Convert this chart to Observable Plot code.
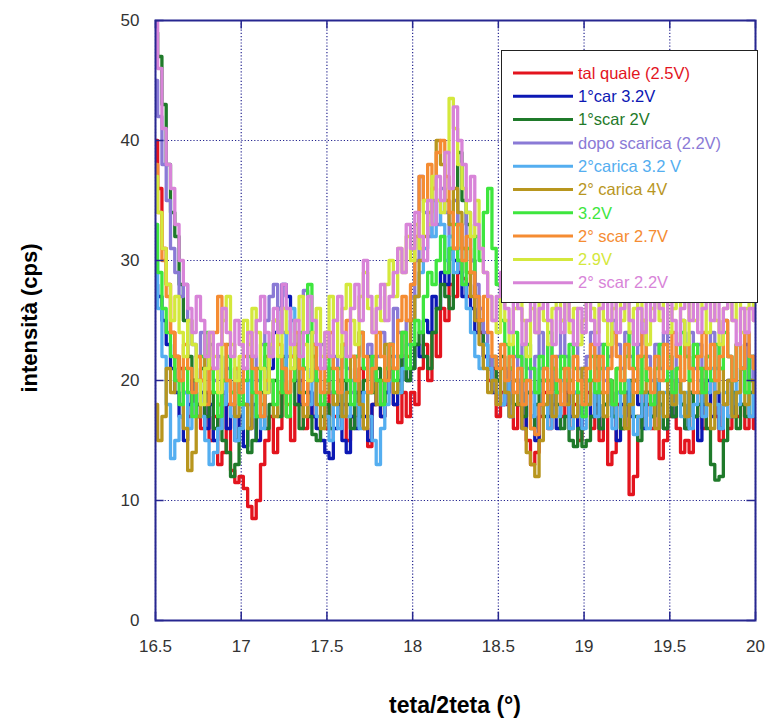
<!DOCTYPE html>
<html>
<head>
<meta charset="utf-8">
<script src="https://cdn.jsdelivr.net/npm/d3@7"></script>
<script src="https://cdn.jsdelivr.net/npm/@observablehq/plot@0.6"></script>
<style>
  html, body { margin: 0; padding: 0; background: #fff; }
  #wrap { position: relative; width: 770px; height: 725px; font-family: "Liberation Sans", Arial, sans-serif; }
  #ytitle { position: absolute; left: 30px; top: 318px; transform: translate(-50%, -50%) rotate(-90deg); font-weight: bold; font-size: 22px; color: #000; white-space: nowrap; }
  #xtitle { position: absolute; left: 455px; top: 705px; transform: translate(-50%, -50%); font-weight: bold; font-size: 23px; color: #000; white-space: nowrap; }
  #legend { position: absolute; left: 501px; top: 50px; width: 255px; height: 251px; background: #fff; border: 1.5px solid #222; }
</style>
</head>
<body>
<div id="wrap">
  <div id="chart"></div>
  <div id="ytitle">intensità (cps)</div>
  <div id="xtitle">teta/2teta (°)</div>
  <div id="legend"></div>
</div>
<script>
// sampling grid (2theta), step 0.025 deg
const xStart = 16.5, xStep = 0.025;
const xTicks = [16.5, 17, 17.5, 18, 18.5, 19, 19.5, 20];
const yTicks = [0, 10, 20, 30, 40, 50];

const seriesNames = ["tal quale (2.5V)", "1°car 3.2V", "1°scar 2V", "dopo scarica (2.2V)", "2°carica 3.2 V",
  "2° carica 4V", "3.2V", "2° scar 2.7V", "2.9V", "2° scar 2.2V"];
const seriesColors = ["#e3141e", "#0c18b4", "#1f7a2a", "#8a7ad6", "#54aef0",
  "#b8961e", "#3ee63e", "#f58c32", "#d4e83c", "#d884d8"];

const talQuale = [
 40,36,31,28,24,22,21,19,17,20,18,16,19,15,17,13,14,18,12.5,11.5,
 12,11,9.5,8.5,10,13,15,17,14,16,19,17,15,18,20,16,19,17,21,18,
 16,19,17,20,18,15,17,19,21,16,14.5,18,20,17,19,22,18,16.5,19,17,
 19,18,21,23,20,24,22,26,25,28,27,30,28.5,27,29,25,24,22,20,21,
 17,19,18,21,16,18,20,15,13,14,17,19,16,18,20,17,19,16,18,15,
 17,19,16,18,15,17,13,14,18,16,19,10.5,12,17,19,18,16,20,13.5,15,
 17,19,16,14,15,14,17,19,16,18,20,17,15,18,16,19,17,18,16,17,16];
const car1 = [
 28,27,25,23,21,19,17,15,18,20,17,19,16,18,15,17,19,16,18,15,
 17,14.5,16,18,15,17,19,21,24,26,28,27,22,20,18,21,19,17,16,15,
 14,13.5,16,18,15,14,17,16,19,17,15,18,20,17,19,21,18,20,22,20,
 21,23,22,25,24,27,26,29,28,31,30,29,27,28,26,24,25,22,21,19,
 20,18,19,17,20,18,16,19,17,15,18,20,17,19,16,18,20,17,19,16,
 18,20,17,19,16,18,20,17,15,18,19,17,20,18,16,19,17,20,18,16,
 19,17,20,18,16,19,17,15,18,20,17,19,16,18,20,17,19,21,23,20,22];
const scar1 = [
 49,47,43,38,34,32,28,25,22,20,18,21,17,19,16,18,15,14,12,13,
 16,18,14,15,17,19,16,18,20,17,22,19,21,18,16,19,17,15.5,15,17,
 18,16,19,17,20,18,16,19,17,20,22,19,21,18,20,23,21,19,22,20,
 21,23,24,22,21,24,26,28,27,26,31,39,35,33,30,27,25,23,21,22,
 20,22,19,21,18,20,17,19,16,18,20,17,19,21,18,16,17,15,14.5,16,
 14.5,15,17,19,16,18,20,17,19,16,18,20,17,15,18,19,17,20,18,16,
 19,17,20,18,16,19,17,18,20,16,13,11.7,12,15,17,19,16,18,17,19,17];
const dopoScarica = [
 45,42,38,35,31,29,27,28,25,23,22,24,21,23,20,22,19,21,18,20,
 19,21,18,22,20,23,25,27,28,26,24,22,25,23,21,27.5,24,22,20,23,
 21,19,22,20,23,21,19,22,24,21,23,20,22,24,21,23,26,24,22,25,
 27,30,37,34,32,35,33,36,34,32,35,33,31,34,30,28,26,24,22,20,
 19,18,21,19,22,20,23,21,19,22,24,21,23,20,22,25,22,20,23,21,
 20,22,24,21,23,20,22,25,23,21,24,22,20,23,25,22,20,23,21,24,
 22,20,23,25,22,24,21,23,20,22,24,21,23,25,22,20,23,21,24,22,20];
const carica2 = [
 30,26,22,18,13.5,15,17,19,16,18,20,17,15,13,14,16,18,20,17,15,
 16,18,20,17,19,16,21,23,25,22,20,24,26,22,19,21,18,20,17,19,
 17,15,18,16,19,17,20,18,16,19,17,15,13,16,18,20,22,19,21,23,
 25,27,29,31,33,32,35,33,30,32,29,31,28,26,24,22,21,23,21,20,
 19,18,20,17,19,21,18,20,17,19,21,18,16,19,17,20,18,16,19,17,
 16,18,20,17,19,21,18,16,19,17,20,18,15.5,17,19,16,18,20,17,19,
 21,18,20,17,19,16,18,20,17,19,21,18,16,19,17,20,18,21,19,17,20];
const carica2_4V = [
 18,15,17,21,19,22,20,16,12.5,14,17,20,22,19,21,18,20,23,19,17,
 20,18,16,19,21,18,22,20,17,19,21,18,20,23,19,17,20,22,18,16,
 19,21,18,20,17,19,22,20,18,16,19,21,18,20,23,21,19,22,24,22,
 25,27,30,32,34,36,40,38,35,33,36,34,31,29,27,25,23,21,19,20,
 18,21,19,17,20,18,16,14,13,12,15,18,20,17,19,21,18,20,17,19,
 21,18,20,22,19,17,20,18,21,19,16,18,20,22,19,21,18,16,19,17,
 20,18,21,19,17,20,22,19,21,18,16,19,21,18,20,17,19,21,18,20,19];
const v32 = [
 33,29,26,24,22,20,18,21,19,17,20,22,24,21,19,17,20,22,19,21,
 18,20,22,19,17,21,23,20,18,22,19,17,20,22,24,21,28,23,20,18,
 20,22,19,21,23,20,18,22,24,21,19,22,20,18,21,23,20,22,24,21,
 23,25,24,27,29,28,30,32,29,31,33,30,28,31,29,32,30,34,36,31,
 28,25,23,21,24,22,20,23,21,19,22,20,24,21,19,22,20,23,21,19,
 17,20,22,19,21,23,20,18,21,19,22,24,21,19,22,20,18,21,23,20,
 22,19,21,24,22,20,23,21,19,22,20,23,21,24,22,20,23,21,19,22,21];
const scar2_27 = [
 38,34,30,27,24,22,20,23,21,19,22,20,18,21,24,27,23,20,18,21,
 19,22,24,21,19,17,20,22,25,23,21,19,22,24,21,18,20,23,21,19,
 22,24,21,19,23,25,22,20,24,22,19,21,24,22,20,23,21,25,27,25,
 28,32,37,35,38,36,39,40,37,34,31,33,30,32,29,27,25,27,24,22,
 21,23,20,22,19,21,18,20,16,15.5,18,21,19,22,20,18,21,19,22,20,
 18,21,23,20,22,19,21,24,22,20,23,21,19,22,24,21,19,22,20,23,
 21,24,22,20,23,21,19,22,24,21,23,20,22,25,22,20,23,21,24,22,21];
const v29 = [
 37,34,31,28,25,27,24,22,25,23,20,18,21,24,22,19,25,27,23,20,
 22,25,23,26,24,21,19,23,25,22,26,24,21,25,27,23,20,24,26,22,
 24,27,25,22,26,28,25,23,27,29,26,24,27,25,28,30,27,31,29,32,
 30,33,31,35,33,37,35,34,39,43.5,41,38,36,34,32,35,31,29,27,25,
 24,27,25,23,26,28,25,22,26,24,27,25,23,26,28,25,27,24,26,23,
 25,28,26,24,27,25,23,26,28,25,27,24,26,28,25,23,26,28,25,27,
 24,26,28,25,23,27,25,28,26,24,27,25,23,26,28,25,27,24,26,28,25];
const scar2_22 = [
 50,46,41,38,36,33,30,28,26,24,27,25,22,24,21,23,26,24,22,25,
 23,21,24,22,25,27,24,22,26,24,28,26,23,25,22,24,27,25,23,21,
 24,22,25,27,24,22,26,28,25,30,27,24,26,28,25,27,29,31,29,33,
 31,34,32,30,35,33,37,35,39,36,42.8,40,38,35,37,33,31,29,27,25,
 27,29,26,24,28,26,23,25,27,24,26,28,25,23,26,24,27,25,23,26,
 24,27,25,23,26,28,25,27,24,26,28,25,23,26,24,27,25,28,26,24,
 27,25,23,26,28,25,27,24,26,28,25,27,24,26,28,25,23,26,24,26,25];

const seriesValues = [talQuale, car1, scar1, dopoScarica, carica2, carica2_4V, v32, scar2_27, v29, scar2_22];

const rows = [];
seriesValues.forEach((vals, s) => {
  vals.forEach((v, i) => rows.push({series: seriesNames[s], x: xStart + i * xStep, y: v}));
});

const navy = "#262690";

const chart = Plot.plot({
  width: 770,
  height: 725,
  marginLeft: 155,
  marginRight: 15,
  marginTop: 20,
  marginBottom: 105,
  style: {fontFamily: "Liberation Sans, Arial, sans-serif", background: "#fff"},
  x: {domain: [16.5, 20]},
  y: {domain: [0, 50]},
  color: {domain: seriesNames, range: seriesColors},
  marks: [
    Plot.gridX(xTicks, {stroke: navy, strokeOpacity: 1, strokeWidth: 1.2, strokeDasharray: "1.2,2"}),
    Plot.gridY(yTicks, {stroke: navy, strokeOpacity: 1, strokeWidth: 1.2, strokeDasharray: "1.2,2"}),
    Plot.line(rows, {x: "x", y: "y", z: "series", stroke: "series", strokeWidth: 3.3, curve: "step", clip: true}),
    Plot.ruleX(xTicks, {y1: 0, y2: 0.7, stroke: navy, strokeWidth: 1.5}),
    Plot.ruleX(xTicks, {y1: 49.3, y2: 50, stroke: navy, strokeWidth: 1.5}),
    Plot.ruleY(yTicks, {x1: 16.5, x2: 16.55, stroke: navy, strokeWidth: 1.5}),
    Plot.ruleY(yTicks, {x1: 19.95, x2: 20, stroke: navy, strokeWidth: 1.5}),
    Plot.frame({stroke: navy, strokeWidth: 2}),
    Plot.axisX(xTicks, {label: null, tickSize: 0, tickPadding: 19, fontSize: 17, fill: "#333", tickFormat: d => String(d)}),
    Plot.axisY(yTicks, {label: null, tickSize: 0, tickPadding: 16, fontSize: 17, fill: "#333"})
  ]
});
document.getElementById("chart").appendChild(chart);

// legend
const lg = d3.select("#legend").append("svg").attr("width", 255).attr("height", 251);
seriesNames.forEach((name, i) => {
  const cy = 22 + i * 23.3;
  lg.append("line").attr("x1", 11).attr("x2", 71).attr("y1", cy).attr("y2", cy)
    .attr("stroke", seriesColors[i]).attr("stroke-width", 3);
  lg.append("text").attr("x", 76).attr("y", cy).attr("dy", "0.35em")
    .attr("fill", seriesColors[i]).attr("font-size", 16.5)
    .attr("font-family", "Liberation Sans, Arial, sans-serif").text(name);
});
</script>
</body>
</html>
